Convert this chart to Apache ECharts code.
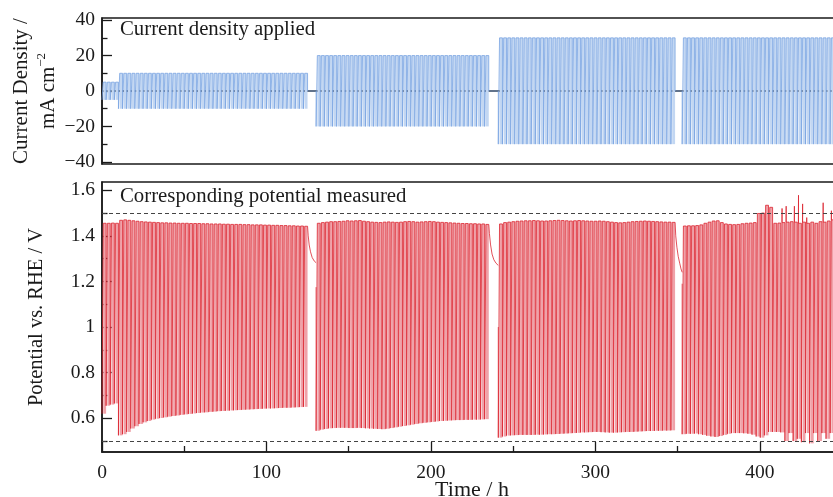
<!DOCTYPE html>
<html>
<head>
<meta charset="utf-8">
<script src="https://cdn.jsdelivr.net/npm/echarts@6/dist/echarts.min.js"></script>
<style>
  html, body { margin: 0; padding: 0; background: #ffffff; }
  #chart { width: 833px; height: 497px; }
</style>
</head>
<body>
<div id="chart"></div>
<script>
// Galvanostatic cycling protocol: each cycle is a cathodic step followed by an anodic step
const cyclePeriod = 2.5;          // h per cycle
const anodicFraction = 0.7;       // share of a cycle spent at positive current

// Current-density segments (mA cm^-2) and their start times (h)
const segStart = [0, 10, 130.2, 241, 352.8];
const segCurrent = [5, 10, 20, 30, 30];

// Potential (V vs. RHE) reached at the end of each cathodic / anodic step, per cycle
const segLow = [
  [0.62, 0.655, 0.66, 0.665],
  [0.525, 0.53, 0.54, 0.555, 0.565, 0.575, 0.582, 0.588, 0.594, 0.598,
   0.601, 0.604, 0.607, 0.61, 0.612, 0.615, 0.617, 0.619, 0.621, 0.623,
   0.625, 0.626, 0.628, 0.629, 0.631, 0.632, 0.633, 0.634, 0.635, 0.636,
   0.637, 0.638, 0.639, 0.64, 0.641, 0.642, 0.643, 0.643, 0.644, 0.645,
   0.646, 0.646, 0.647, 0.648, 0.649, 0.65],
  [0.545, 0.55, 0.553, 0.556, 0.557, 0.558, 0.558, 0.558, 0.557, 0.557,
   0.558, 0.557, 0.556, 0.555, 0.554, 0.553, 0.552, 0.554, 0.557, 0.56,
   0.563, 0.566, 0.569, 0.572, 0.575, 0.578, 0.58, 0.582, 0.584, 0.586,
   0.588, 0.589, 0.59, 0.591, 0.592, 0.592, 0.593, 0.593, 0.594, 0.594,
   0.595, 0.596],
  [0.515, 0.52, 0.524, 0.525, 0.526, 0.527, 0.527, 0.527, 0.527, 0.528,
   0.528, 0.529, 0.53, 0.53, 0.531, 0.532, 0.533, 0.534, 0.535, 0.536,
   0.538, 0.538, 0.539, 0.54, 0.54, 0.539, 0.538, 0.537, 0.537, 0.538,
   0.539, 0.54, 0.54, 0.541, 0.542, 0.543, 0.544, 0.544, 0.545, 0.545,
   0.546, 0.546, 0.547],
  [0.53, 0.532, 0.532, 0.533, 0.53, 0.527, 0.523, 0.52, 0.518, 0.522,
   0.527, 0.532, 0.535, 0.535, 0.535, 0.534, 0.532, 0.528, 0.52, 0.515,
   0.525, 0.54, 0.54, 0.54, 0.538, 0.5, 0.535, 0.5, 0.51, 0.495,
   0.535, 0.49, 0.535, 0.5, 0.535, 0.51, 0.535, 0.5, 0.53]
];
const segHigh = [
  [1.455, 1.455, 1.456, 1.455],
  [1.468, 1.47, 1.468, 1.466, 1.464, 1.462, 1.461, 1.46, 1.459, 1.458,
   1.457, 1.457, 1.456, 1.456, 1.455, 1.455, 1.455, 1.454, 1.454, 1.454,
   1.453, 1.453, 1.452, 1.452, 1.452, 1.451, 1.451, 1.45, 1.45, 1.45,
   1.449, 1.449, 1.448, 1.448, 1.448, 1.447, 1.447, 1.446, 1.446, 1.445,
   1.445, 1.444, 1.444, 1.443, 1.443, 1.442],
  [1.455, 1.458, 1.46, 1.462, 1.462, 1.463, 1.464, 1.466, 1.465, 1.466,
   1.467, 1.464, 1.462, 1.46, 1.459, 1.458, 1.46, 1.461, 1.46, 1.459,
   1.46, 1.462, 1.463, 1.462, 1.46, 1.461, 1.462, 1.463, 1.462, 1.46,
   1.459, 1.458, 1.457, 1.456, 1.455, 1.454, 1.454, 1.453, 1.453, 1.452,
   1.452, 1.45],
  [1.452, 1.458, 1.46, 1.462, 1.464, 1.465, 1.466, 1.466, 1.467, 1.466,
   1.465, 1.465, 1.466, 1.467, 1.468, 1.467, 1.466, 1.465, 1.466, 1.467,
   1.466, 1.465, 1.464, 1.464, 1.465, 1.464, 1.462, 1.46, 1.458, 1.457,
   1.458, 1.46, 1.462, 1.463, 1.464, 1.465, 1.464, 1.463, 1.462, 1.461,
   1.46, 1.46, 1.459],
  [1.443, 1.444, 1.444, 1.445, 1.448, 1.455, 1.46, 1.465, 1.466, 1.458,
   1.452, 1.45, 1.449, 1.45, 1.453, 1.455, 1.456, 1.458, 1.498, 1.5,
   1.534, 1.525, 1.455, 1.456, 1.458, 1.46, 1.462, 1.46, 1.455, 1.46,
   1.455, 1.46, 1.455, 1.462, 1.46, 1.465, 1.47, 1.46, 1.465]
];
// Short overshoots at the start of some anodic steps in the last segment
const lastSegSpikes = [
  null, null, null, null, null, null, null, null, null, null,
  null, null, null, null, null, null, null, null, null, null,
  null, null, null, null, 1.52, 1.53, null, 1.53, 1.578, 1.54,
  1.48, null, null, null, 1.545, null, 1.51, null, null
];

// Open-circuit relaxation between segments
const restAfter = [1, 2, 3];
const restTime = [
  [125, 125.4, 126, 126.8, 127.8, 129, 130.2],
  [235.2, 235.6, 236.3, 237.2, 238.3, 239.6, 241],
  [348.5, 348.9, 349.6, 350.4, 351.3, 352.1, 352.8]
];
const restPotential = [
  [1.442, 1.4, 1.36, 1.33, 1.305, 1.29, 1.282],
  [1.45, 1.41, 1.36, 1.32, 1.295, 1.28, 1.27],
  [1.459, 1.4, 1.35, 1.31, 1.28, 1.255, 1.24]
];
// Potential recorded at the first point of a segment that follows a rest
const segEntry = [null, null, 1.175, 1.0, 1.19];

// Reference potential levels and axis tick values
const refLevels = [0.5, 1.5];
const timeTicks = [0, 100, 200, 300, 400];
const currentTicks = [-40, -20, 0, 20, 40];
const currentMinorTicks = [-30, -10, 10, 30];
const potentialTicks = [0.6, 0.8, 1.0, 1.2, 1.4, 1.6];
const potentialMinorTicks = [0.5, 0.7, 0.9, 1.1, 1.3, 1.5];

// ---- build line traces and filled anodic blocks ----
const curLine = [], curFill = [], potLine = [], potFill = [];
segStart.forEach(function (t0, s) {
  const j = segCurrent[s];
  const lo = segLow[s], hi = segHigh[s];
  if (segEntry[s] != null) {
    potLine.push([t0, NaN]);
    potLine.push([t0, segEntry[s]]);
  }
  for (let i = 0; i < lo.length; i++) {
    const ts = t0 + i * cyclePeriod;
    const tm = ts + (1 - anodicFraction) * cyclePeriod;
    const te = ts + cyclePeriod;
    curLine.push([ts, -j], [tm, -j], [tm, j], [te, j]);
    curFill.push([tm, te, -j, j]);
    potLine.push([ts, lo[i]], [tm, lo[i]]);
    const spike = s === segStart.length - 1 ? lastSegSpikes[i] : null;
    if (spike != null) potLine.push([tm, spike]);
    potLine.push([tm, hi[i]], [te, hi[i]]);
    potFill.push([tm, te, lo[i], hi[i]]);
  }
  const r = restAfter.indexOf(s);
  if (r >= 0) {
    const rt = restTime[r], rp = restPotential[r];
    curLine.push([rt[0], 0], [rt[rt.length - 1], 0]);
    rt.forEach(function (t, k) { potLine.push([t, rp[k]]); });
  }
});

function blockRenderer(color) {
  return function (params, api) {
    const a = api.coord([api.value(0), api.value(3)]);
    const b = api.coord([api.value(1), api.value(2)]);
    return {
      type: 'rect',
      shape: { x: a[0], y: a[1], width: b[0] - a[0], height: b[1] - a[1] },
      style: { fill: color },
      silent: true
    };
  };
}

const serif = "'Liberation Serif', 'Times New Roman', serif";
const ink = '#1a1a1a';
const minus = function (v) { return String(v).replace('-', '\u2212'); };

const chart = echarts.init(document.getElementById('chart'), null, { renderer: 'canvas' });
chart.setOption({
  animation: false,
  backgroundColor: '#ffffff',
  textStyle: { fontFamily: serif, color: ink },
  grid: [
    { left: 102, top: 18, width: 740, height: 146, show: true, borderColor: ink, borderWidth: 1.5,
      outerBoundsMode: 'none', containLabel: false },
    { left: 102, top: 182, width: 740, height: 270, show: true, borderColor: ink, borderWidth: 1.5,
      outerBoundsMode: 'none', containLabel: false }
  ],
  xAxis: [
    {
      gridIndex: 0, type: 'value', min: 0, max: 450,
      axisLine: { show: true, lineStyle: { color: ink, width: 1.5 } },
      axisTick: { show: false }, axisLabel: { show: false }, splitLine: { show: false }
    },
    {
      gridIndex: 1, type: 'value', min: 0, max: 450, interval: 100,
      axisLine: { show: true, lineStyle: { color: ink, width: 1.5 } },
      axisTick: { show: true, inside: true, length: 10, lineStyle: { color: ink, width: 1.3 } },
      minorTick: { show: true, splitNumber: 2, length: 6, lineStyle: { color: ink, width: 1.3 } },
      axisLabel: { fontSize: 19.5, color: ink, fontFamily: serif, margin: 11,
                   customValues: timeTicks },
      splitLine: { show: false },
      name: 'Time / h', nameLocation: 'middle', nameGap: 27, nameMoveOverlap: false,
      nameTextStyle: { fontSize: 22, color: ink, fontFamily: serif }
    }
  ],
  yAxis: [
    {
      gridIndex: 0, type: 'value', min: -41.2, max: 41.2,
      axisLine: { show: true, lineStyle: { color: ink, width: 1.5 } },
      axisTick: { show: true, inside: true, length: 10, customValues: currentTicks,
                  lineStyle: { color: ink, width: 1.3 } },
      axisLabel: { fontSize: 19.5, color: ink, fontFamily: serif, margin: 7,
                   customValues: currentTicks, formatter: minus },
      splitLine: { show: false },
      name: 'Current Density /\nmA cm{sup|\u22122}', nameLocation: 'middle', nameGap: 40,
      nameRotate: 90, nameMoveOverlap: false,
      nameTextStyle: {
        fontSize: 21, color: ink, fontFamily: serif, lineHeight: 27,
        rich: { sup: { fontSize: 13, fontFamily: serif, color: ink, verticalAlign: 'top', lineHeight: 27 } }
      }
    },
    {
      gridIndex: 0, type: 'value', min: -41.2, max: 41.2, position: 'left',
      axisLine: { show: false },
      axisTick: { show: true, inside: true, length: 5.5, customValues: currentMinorTicks,
                  lineStyle: { color: ink, width: 1.3 } },
      axisLabel: { show: false }, splitLine: { show: false }
    },
    {
      gridIndex: 1, type: 'value', min: 0.452, max: 1.636,
      axisLine: { show: true, lineStyle: { color: ink, width: 1.5 } },
      axisTick: { show: true, inside: true, length: 10, customValues: potentialTicks,
                  lineStyle: { color: ink, width: 1.3 } },
      axisLabel: { fontSize: 19.5, color: ink, fontFamily: serif, margin: 7,
                   customValues: potentialTicks },
      splitLine: { show: false },
      name: 'Potential vs. RHE / V', nameLocation: 'middle', nameGap: 55, nameRotate: 90,
      nameMoveOverlap: false,
      nameTextStyle: { fontSize: 20.5, color: ink, fontFamily: serif }
    },
    {
      gridIndex: 1, type: 'value', min: 0.452, max: 1.636, position: 'left',
      axisLine: { show: false },
      axisTick: { show: true, inside: true, length: 5.5, customValues: potentialMinorTicks,
                  lineStyle: { color: ink, width: 1.3 } },
      axisLabel: { show: false }, splitLine: { show: false }
    }
  ],
  graphic: [
    { type: 'text', left: 120, top: 19, silent: true,
      style: { text: 'Current density applied', font: '20.8px ' + serif, fill: ink } },
    { type: 'text', left: 120, top: 186, silent: true,
      style: { text: 'Corresponding potential measured', font: '20.8px ' + serif, fill: ink } }
  ],
  series: [
    {
      type: 'custom', xAxisIndex: 0, yAxisIndex: 0, data: curFill, clip: true, z: 1,
      encode: { x: [0, 1], y: [2, 3] }, renderItem: blockRenderer('#c3d7f2')
    },
    {
      type: 'line', xAxisIndex: 0, yAxisIndex: 0, data: curLine, showSymbol: false, z: 2,
      lineStyle: { color: '#7aa5e2', width: 0.8 }, clip: true
    },
    {
      type: 'custom', xAxisIndex: 1, yAxisIndex: 2, data: potFill, clip: true, z: 1,
      encode: { x: [0, 1], y: [2, 3] }, renderItem: blockRenderer('#efa2a9')
    },
    {
      type: 'line', xAxisIndex: 1, yAxisIndex: 2, data: potLine, showSymbol: false, z: 2,
      connectNulls: false, clip: true,
      lineStyle: { color: '#dc2430', width: 0.8 },
      markLine: {
        silent: true, symbol: 'none', label: { show: false },
        lineStyle: { color: '#444', width: 1, type: [4, 3] },
        data: refLevels.map(function (v) { return { yAxis: v }; })
      }
    }
  ]
});
</script>
</body>
</html>
